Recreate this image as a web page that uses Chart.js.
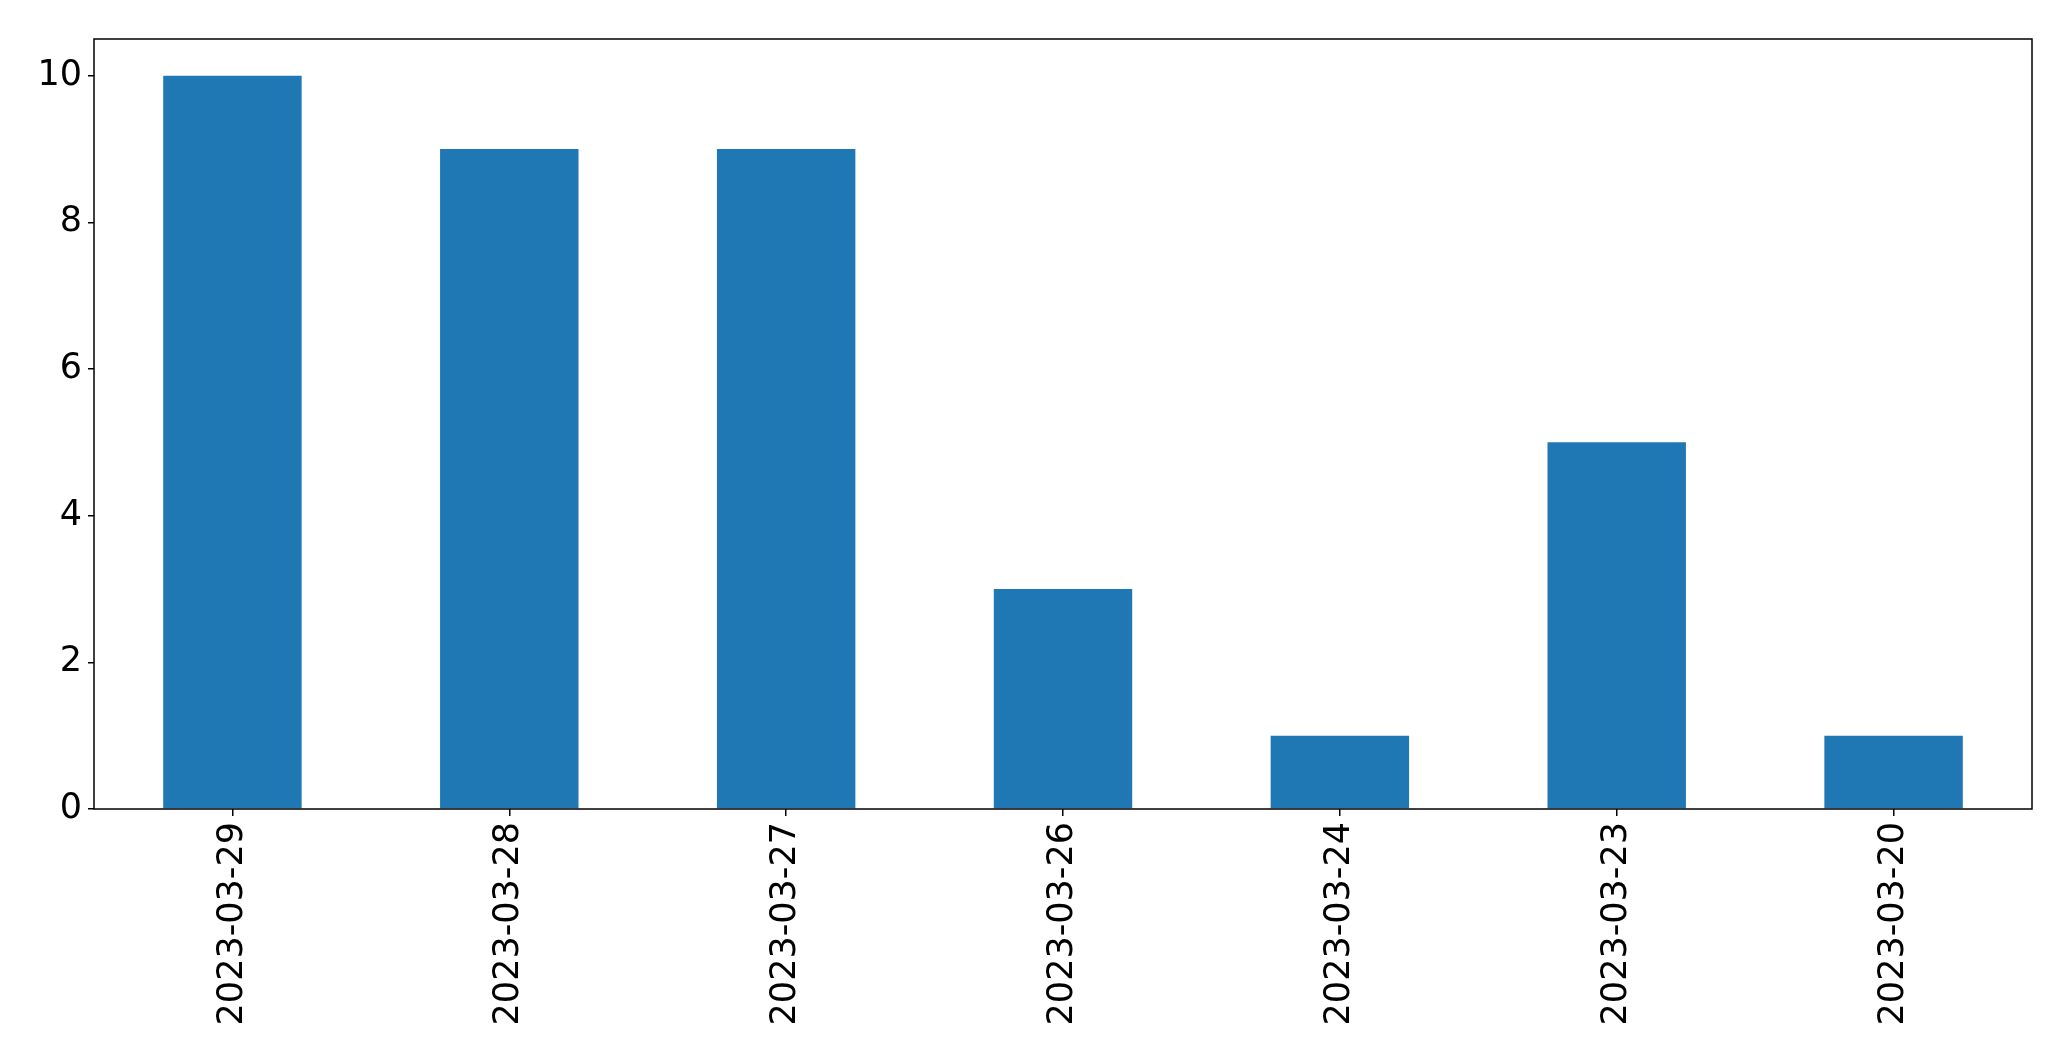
<!DOCTYPE html>
<html>
<head>
<meta charset="utf-8">
<script src="https://cdn.jsdelivr.net/npm/chart.js@4"></script>
<style>
    body { margin: 0; background: #fff; }
    #caja { width: 2071px; height: 1061px; }
</style>
</head>
<body>
<div id="caja"><canvas id="grafica"></canvas></div>
<script>
const fechas = ['2023-03-29', '2023-03-28', '2023-03-27', '2023-03-26', '2023-03-24', '2023-03-23', '2023-03-20'];
const conteos = [10, 9, 9, 3, 1, 5, 1];
const marcasY = [0, 2, 4, 6, 8, 10];

// Marco negro alrededor del area del grafico
const marco = {
    id: 'marco',
    afterDraw(chart) {
        const { ctx, chartArea } = chart;
        ctx.save();
        ctx.strokeStyle = '#000';
        ctx.lineWidth = 1.5;
        ctx.strokeRect(chartArea.left, chartArea.top, chartArea.right - chartArea.left, chartArea.bottom - chartArea.top);
        ctx.restore();
    }
};

const fuente = { family: 'DejaVu Sans', size: 35 };

new Chart(document.getElementById('grafica').getContext('2d'), {
    type: 'bar',
    data: {
        labels: fechas,
        datasets: [{
            data: conteos,
            backgroundColor: '#1f77b4',
            barPercentage: 0.5,
            categoryPercentage: 1
        }]
    },
    options: {
        responsive: true,
        maintainAspectRatio: false,
        animation: false,
        layout: { padding: { top: 39, right: 39, left: 0, bottom: 0 } },
        plugins: { legend: { display: false }, tooltip: { enabled: false } },
        scales: {
            x: {
                offset: true,
                grid: { offset: false, drawOnChartArea: false, drawTicks: true, tickLength: 7, color: '#000', lineWidth: 1.5 },
                border: { display: false },
                ticks: { color: '#000', font: fuente, minRotation: 90, maxRotation: 90, padding: 6, autoSkip: false },
                afterFit(scale) { scale.height = 252; }
            },
            y: {
                min: 0,
                max: 10.5,
                afterBuildTicks(scale) { scale.ticks = marcasY.map(v => ({ value: v })); },
                grid: { drawOnChartArea: false, drawTicks: true, tickLength: 6, color: '#000', lineWidth: 1.5 },
                border: { display: false },
                ticks: { color: '#000', font: fuente, padding: 6 },
                afterFit(scale) { scale.width = 94; }
            }
        }
    },
    plugins: [marco]
});
</script>
</body>
</html>
